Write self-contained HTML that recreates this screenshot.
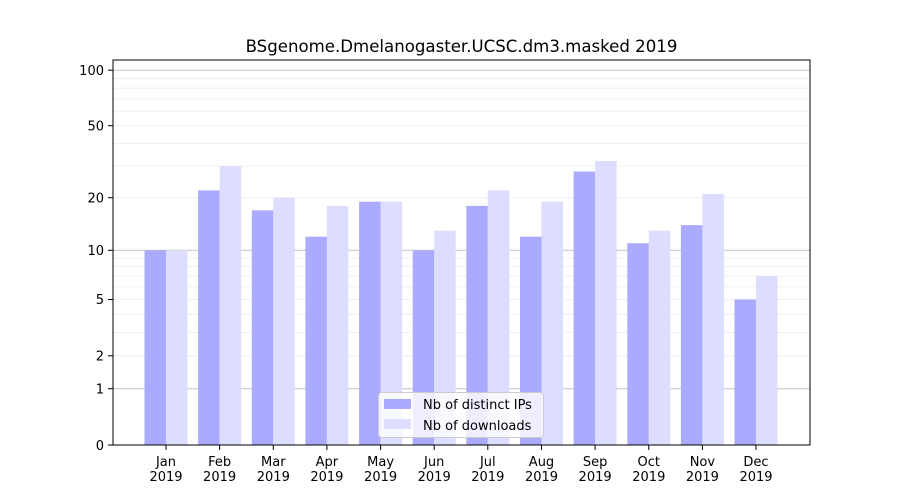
<!DOCTYPE html>
<html><head><meta charset="utf-8"><style>body{margin:0;background:#fff}svg{display:block}text{font-family:"DejaVu Sans","Liberation Sans",sans-serif;fill:#000}</style></head>
<body>
<svg width="900" height="500" viewBox="0 0 900 500" xmlns="http://www.w3.org/2000/svg">
<rect width="900" height="500" fill="#fff"/>
<g stroke="#ebebeb" stroke-width="0.8">
<line x1="113" x2="810" y1="355.8" y2="355.8"/><line x1="113" x2="810" y1="332.4" y2="332.4"/><line x1="113" x2="810" y1="314.3" y2="314.3"/><line x1="113" x2="810" y1="299.5" y2="299.5"/><line x1="113" x2="810" y1="287" y2="287"/><line x1="113" x2="810" y1="276.1" y2="276.1"/><line x1="113" x2="810" y1="266.6" y2="266.6"/><line x1="113" x2="810" y1="258" y2="258"/>
<line x1="113" x2="810" y1="197.7" y2="197.7"/><line x1="113" x2="810" y1="166.1" y2="166.1"/><line x1="113" x2="810" y1="143.4" y2="143.4"/><line x1="113" x2="810" y1="125.7" y2="125.7"/><line x1="113" x2="810" y1="111.1" y2="111.1"/><line x1="113" x2="810" y1="98.8" y2="98.8"/><line x1="113" x2="810" y1="88.1" y2="88.1"/><line x1="113" x2="810" y1="78.7" y2="78.7"/>
</g>
<g stroke="#c4c4c4" stroke-width="1"><line x1="113" x2="810" y1="388.7" y2="388.7"/><line x1="113" x2="810" y1="250.3" y2="250.3"/><line x1="113" x2="810" y1="70.2" y2="70.2"/></g>
<g fill="#aaaaff">
<rect x="144.5" y="250.3" width="21.5" height="194.7"/><rect x="198.1" y="190.4" width="21.5" height="254.6"/><rect x="251.8" y="210.3" width="21.5" height="234.7"/><rect x="305.4" y="236.7" width="21.5" height="208.3"/><rect x="359.1" y="201.7" width="21.5" height="243.3"/><rect x="412.7" y="250.3" width="21.5" height="194.7"/><rect x="466.3" y="205.9" width="21.5" height="239.1"/><rect x="520" y="236.7" width="21.5" height="208.3"/><rect x="573.6" y="171.5" width="21.5" height="273.5"/><rect x="627.3" y="243.2" width="21.5" height="201.8"/><rect x="680.9" y="225.1" width="21.5" height="219.9"/><rect x="734.5" y="299.5" width="21.5" height="145.5"/>
</g>
<g fill="#ddddff">
<rect x="166" y="250.3" width="21.5" height="194.7"/><rect x="219.6" y="166.1" width="21.5" height="278.9"/><rect x="273.3" y="197.7" width="21.5" height="247.3"/><rect x="326.9" y="205.9" width="21.5" height="239.1"/><rect x="380.6" y="201.7" width="21.5" height="243.3"/><rect x="434.2" y="230.7" width="21.5" height="214.3"/><rect x="487.8" y="190.4" width="21.5" height="254.6"/><rect x="541.5" y="201.7" width="21.5" height="243.3"/><rect x="595.1" y="161" width="21.5" height="284"/><rect x="648.8" y="230.7" width="21.5" height="214.3"/><rect x="702.4" y="194" width="21.5" height="251"/><rect x="756" y="276.1" width="21.5" height="168.9"/>
</g>
<rect x="113" y="60" width="697" height="385" fill="none" stroke="#000" stroke-width="1"/>
<g stroke="#000"><line x1="108" x2="113" y1="445" y2="445"/><line x1="108" x2="113" y1="388.7" y2="388.7"/><line x1="108" x2="113" y1="355.8" y2="355.8"/><line x1="108" x2="113" y1="299.5" y2="299.5"/><line x1="108" x2="113" y1="250.3" y2="250.3"/><line x1="108" x2="113" y1="197.7" y2="197.7"/><line x1="108" x2="113" y1="125.7" y2="125.7"/><line x1="108" x2="113" y1="70.2" y2="70.2"/>
<line x1="166" x2="166" y1="445" y2="450"/><line x1="219.6" x2="219.6" y1="445" y2="450"/><line x1="273.3" x2="273.3" y1="445" y2="450"/><line x1="326.9" x2="326.9" y1="445" y2="450"/><line x1="380.6" x2="380.6" y1="445" y2="450"/><line x1="434.2" x2="434.2" y1="445" y2="450"/><line x1="487.8" x2="487.8" y1="445" y2="450"/><line x1="541.5" x2="541.5" y1="445" y2="450"/><line x1="595.1" x2="595.1" y1="445" y2="450"/><line x1="648.8" x2="648.8" y1="445" y2="450"/><line x1="702.4" x2="702.4" y1="445" y2="450"/><line x1="756" x2="756" y1="445" y2="450"/></g>
<g font-size="13" text-anchor="end"><text x="104" y="450">0</text><text x="104" y="393.5">1</text><text x="104" y="360.5">2</text><text x="104" y="304">5</text><text x="104" y="255">10</text><text x="104" y="202.5">20</text><text x="104" y="130.5">50</text><text x="104" y="75">100</text></g>
<g font-size="13" text-anchor="middle">
<text x="166" y="466">Jan</text><text x="166" y="481">2019</text><text x="219.6" y="466">Feb</text><text x="219.6" y="481">2019</text><text x="273.3" y="466">Mar</text><text x="273.3" y="481">2019</text><text x="326.9" y="466">Apr</text><text x="326.9" y="481">2019</text><text x="380.6" y="466">May</text><text x="380.6" y="481">2019</text><text x="434.2" y="466">Jun</text><text x="434.2" y="481">2019</text><text x="487.8" y="466">Jul</text><text x="487.8" y="481">2019</text><text x="541.5" y="466">Aug</text><text x="541.5" y="481">2019</text><text x="595.1" y="466">Sep</text><text x="595.1" y="481">2019</text><text x="648.8" y="466">Oct</text><text x="648.8" y="481">2019</text><text x="702.4" y="466">Nov</text><text x="702.4" y="481">2019</text><text x="756" y="466">Dec</text><text x="756" y="481">2019</text>
<text x="461.5" y="52" font-size="16.6">BSgenome.Dmelanogaster.UCSC.dm3.masked 2019</text></g>
<rect x="378.5" y="392.5" width="165" height="45" rx="3" fill="#fff" fill-opacity="0.8" stroke="#ccc"/>
<rect x="384" y="399" width="27" height="10" fill="#aaaaff"/><rect x="384" y="419" width="27" height="10" fill="#ddddff"/>
<g font-size="13"><text x="423" y="409">Nb of distinct IPs</text><text x="423" y="430">Nb of downloads</text></g>
</svg>
</body></html>
